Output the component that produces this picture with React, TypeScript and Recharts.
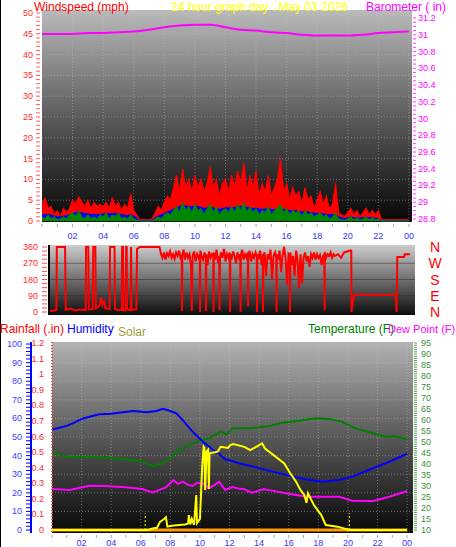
import React from 'react';
import { ComposedChart, Area, Line, XAxis, YAxis, CartesianGrid, ReferenceLine } from 'recharts';

const FONT = '"Liberation Sans", Arial, Helvetica, sans-serif';

// wind samples every 12 minutes, 00:00 -> 24:00 (mph)
const GUST = [
  4, 5.5, 3, 3.5, 1.5, 2.5, 1, 3, 2, 3,
  5, 4, 5.8, 4.5, 3.5, 5, 3, 4.5, 3.5, 4,
  3.5, 4.5, 3, 5.5, 3.5, 4.5, 2.5, 4, 3, 6.5,
  2.5, 1.5, 0.3, 0.3, 0.3, 0.3, 0.5, 2, 3.5, 2.5,
  4.5, 6, 5, 8, 11, 7, 12.5, 8, 10, 7,
  11, 8, 10, 7, 9, 13, 8, 10, 6, 9,
  10, 7, 11, 8, 12, 9, 14, 7, 11, 8,
  12, 6, 9, 7, 11, 6, 8, 10, 15, 7,
  9, 5, 8, 6, 7, 4, 8, 5, 6, 3,
  5, 7, 4, 6, 3, 4, 9, 2, 1.5, 1,
  2, 3, 1.5, 2.5, 1, 2, 3, 1.5, 2.5, 1.5,
  2.5, 0.3, 0.3, 0.3, 0.3, 0.3, 0.3, 0.3, 0.3, 0.3,
  0.3,
];
const AVG_SPEED = [
  1.5, 1.5, 1.6, 1.4, 1.2, 1.0, 1.0, 1.2, 1.3, 1.5,
  1.8, 2.0, 2.2, 2.0, 1.8, 1.7, 1.6, 1.6, 1.5, 1.6,
  1.7, 1.8, 1.7, 1.8, 1.8, 1.7, 1.5, 1.4, 1.3, 1.5,
  1.2, 0.8, 0, 0, 0, 0, 0.2, 0.8, 1.2, 1.5,
  1.8, 2.2, 2.5, 2.8, 3.2, 3.5, 3.8, 3.6, 3.5, 3.4,
  3.6, 3.5, 3.3, 3.0, 3.2, 3.4, 3.1, 3.0, 2.8, 3.0,
  3.2, 3.1, 3.3, 3.2, 3.5, 3.4, 3.6, 3.3, 3.2, 3.0,
  3.1, 2.9, 2.8, 2.9, 3.0, 2.8, 2.7, 2.9, 3.0, 2.8,
  2.6, 2.5, 2.4, 2.5, 2.3, 2.2, 2.1, 2.2, 2.0, 1.9,
  1.8, 1.8, 1.7, 1.6, 1.5, 1.5, 1.6, 1.0, 0.8, 0.6,
  0.7, 0.9, 0.8, 0.8, 0.7, 0.8, 0.9, 0.8, 0.8, 0.7,
  0.6, 0, 0, 0, 0, 0, 0, 0, 0, 0,
  0,
];
const WIND_SPEED = [
  1, 0.5, 1.5, 0.5, 1, 0.3, 0.5, 1, 0.5, 1.5,
  2, 1, 2.5, 1, 0.5, 1.5, 0.5, 1, 0.5, 1.5,
  1, 2, 0.5, 1.5, 1, 2, 0.5, 1, 0.5, 1.5,
  0.5, 0.3, 0, 0, 0, 0, 0, 0.5, 1, 0.5,
  1.5, 2, 1.5, 2.5, 3.5, 2, 4.5, 2.5, 3.5, 2,
  4, 2.5, 3, 1.5, 3, 4, 2, 3.5, 1.5, 2.5,
  3, 2, 3.5, 2, 4, 2.5, 4.5, 2, 3.5, 2,
  3, 1.5, 2.5, 2, 3.5, 1.5, 2.5, 3, 4, 2,
  3, 1.5, 2.5, 2, 2.5, 1, 2.5, 1.5, 2, 1,
  1.5, 2, 1, 1.5, 0.5, 1, 2, 0.5, 0.3, 0.2,
  0.5, 1, 0.3, 0.8, 0.2, 0.5, 1, 0.3, 0.8, 0.3,
  0.5, 0, 0, 0, 0, 0, 0, 0, 0, 0,
  0,
];
const WIND_STEP_H = 0.2;

// hourly barometer (in)
const BAROMETER = [
  31.01, 31.01, 31.01, 31.02, 31.02, 31.03, 31.04, 31.06, 31.09, 31.11,
  31.12, 31.12, 31.09, 31.06, 31.05, 31.03, 31.02, 31.0, 30.99, 30.99,
  30.99, 31.0, 31.02, 31.03, 31.04,
];

// [hour, degrees]
const DIRECTION: [number, number][] = [
  [0, 5], [0.2, 8], [0.42, 10], [0.45, 360], [1.0, 360], [1.05, 12], [1.4, 18], [1.7, 8], [2.0, 14], [2.38, 10],
  [2.4, 360], [2.55, 360], [2.58, 15], [2.85, 15], [2.88, 360], [3.02, 360], [3.05, 20], [3.3, 35], [3.4, 80], [3.5, 40],
  [3.6, 65], [3.7, 20], [3.97, 15], [4.0, 360], [4.3, 360], [4.33, 15], [4.6, 10], [4.78, 12], [4.8, 360], [4.86, 360],
  [4.88, 10], [5.05, 10], [5.07, 360], [5.11, 360], [5.13, 15], [5.38, 10], [5.4, 360], [5.43, 12], [5.75, 15], [5.8, 350],
  [6.0, 360], [7.3, 360],
  [7.4, 320], [7.5, 300], [7.6, 330], [7.7, 290], [7.8, 325], [7.9, 310], [8.0, 335], [8.1, 300], [8.2, 320], [8.3, 295],
  [8.4, 330], [8.5, 310], [8.6, 340], [8.7, 300], [8.78, 310], [8.8, 5], [8.82, 320], [8.9, 345], [9.0, 290], [9.1, 330],
  [9.2, 300], [9.3, 320], [9.4, 250], [9.45, 5], [9.5, 310], [9.6, 335], [9.7, 280], [9.8, 320], [9.9, 300], [9.98, 320],
  [10.0, 0], [10.02, 340], [10.1, 310], [10.2, 290], [10.3, 330], [10.38, 300], [10.4, 5], [10.42, 320], [10.5, 260], [10.6, 335],
  [10.7, 300], [10.8, 320], [10.88, 310], [10.9, 0], [10.92, 330], [11.0, 290], [11.1, 345], [11.2, 270], [11.28, 310], [11.3, 10],
  [11.33, 300], [11.4, 330], [11.5, 300], [11.6, 350], [11.7, 280], [11.8, 320], [11.9, 300], [11.98, 330], [12.0, 0], [12.02, 320],
  [12.1, 290], [12.2, 335], [12.3, 310], [12.4, 270], [12.5, 330], [12.6, 300], [12.68, 320], [12.7, 0], [12.72, 310], [12.8, 345],
  [12.9, 290], [13.0, 320], [13.1, 300], [13.18, 330], [13.2, 30], [13.22, 310], [13.3, 340], [13.4, 280], [13.5, 320], [13.6, 300],
  [13.7, 330], [13.78, 310], [13.8, 0], [13.82, 320], [13.9, 290], [14.0, 340], [14.1, 260], [14.18, 320], [14.2, 0], [14.22, 310],
  [14.3, 330], [14.4, 200], [14.5, 320], [14.6, 300], [14.7, 345], [14.8, 180], [14.9, 310], [15.0, 330], [15.08, 300], [15.1, 0],
  [15.12, 320], [15.2, 290], [15.3, 340], [15.4, 220], [15.5, 310], [15.6, 360], [15.7, 300], [15.8, 150], [15.9, 320], [15.98, 310],
  [16.0, 0], [16.02, 330], [16.1, 260], [16.2, 310], [16.3, 200], [16.4, 340], [16.5, 290], [16.6, 130], [16.7, 320], [16.8, 160],
  [16.9, 300], [17.0, 330], [17.1, 280], [17.2, 310], [17.3, 250], [17.4, 320], [17.5, 300], [17.6, 330], [17.7, 290], [17.8, 320],
  [17.9, 300], [18.0, 315], [18.1, 260], [18.2, 310], [18.28, 320], [18.3, 10], [18.32, 330], [18.4, 300], [18.5, 320], [18.6, 310],
  [18.7, 330], [18.8, 300], [18.9, 320], [19.0, 310], [19.2, 320], [19.4, 300], [19.6, 330], [19.8, 335], [20.0, 340], [20.08, 340],
  [20.1, 0], [20.2, 60], [20.3, 95], [21.0, 95], [22.0, 95], [23.05, 95], [23.1, 0], [23.15, 305], [23.6, 305], [23.65, 320],
  [24.0, 320],
];

const HUMIDITY: [number, number][] = [
  [0, 54], [0.5, 55], [1, 56], [1.4, 57.3], [2.1, 60], [2.6, 61], [3.2, 62.2], [4, 62.5], [4.8, 63.3], [5.5, 64],
  [6.4, 63.3], [7.05, 64], [7.5, 65.2], [8, 64], [8.4, 62.7], [8.85, 59], [9.5, 52.9], [10.2, 47.5], [10.9, 43], [11.3, 41],
  [11.7, 38], [12, 37.5], [12.7, 35.8], [13.8, 33.7], [14.9, 31.4], [16.3, 28.7], [17.2, 27.2], [18.3, 26], [19.4, 26.9], [20.3, 28.7],
  [21.7, 33.2], [22.8, 36.7], [24, 41],
];
const TEMPERATURE: [number, number][] = [
  [0, 45.3], [0.7, 44], [1.4, 43], [2.5, 43.3], [3.5, 43], [4.8, 42.3], [5.9, 41.4], [6.8, 39.1], [7.5, 40.3], [8, 42.6],
  [8.6, 46.4], [9.3, 48.6], [9.9, 50.5], [10.6, 51.7], [11.4, 54.7], [11.8, 53.5], [12.2, 56.2], [13.3, 56.2], [14.5, 57], [15.6, 58.8],
  [16.7, 59.7], [17.8, 60.8], [18.7, 60.5], [19.6, 59.2], [20.5, 56.2], [21.7, 54], [22.5, 52.4], [23.2, 52.6], [24, 51.4],
];
const DEW_POINT: [number, number][] = [
  [0, 28.6], [1.2, 28.2], [2.5, 30.1], [3.6, 30], [5, 29.4], [6.1, 28.6], [6.8, 27.1], [7.7, 29.4], [8.2, 32.7], [8.5, 31],
  [8.85, 32], [9.2, 30.5], [9.5, 30], [9.8, 31.5], [10.2, 31], [10.6, 28.9], [11.0, 30.5], [11.3, 32], [11.7, 28.2], [12.2, 29.5],
  [12.6, 28.9], [13.0, 28.5], [13.5, 27], [14.3, 28.5], [14.9, 27.9], [16, 26.5], [17.2, 25.1], [18.3, 25.1], [19.4, 25.1], [20.3, 23.3],
  [21.7, 23.2], [22.8, 25.1], [24, 27.7],
];
// W/m2
const SOLAR: [number, number][] = [
  [0, 0], [6.5, 0], [6.8, 8], [7.1, 12], [7.3, 44], [7.6, 60], [7.7, 68], [7.8, 18], [8.1, 23], [8.6, 27],
  [9.0, 30], [9.2, 35], [9.25, 80], [9.35, 30], [9.45, 59], [9.6, 27], [9.75, 188], [9.8, 37], [10.0, 60], [10.15, 339],
  [10.25, 446], [10.3, 440], [10.35, 214], [10.45, 420], [10.55, 430], [10.6, 220], [10.65, 411], [11.2, 420], [11.4, 446], [11.9, 440],
  [12.05, 455], [12.25, 461], [13.0, 446], [13.4, 428], [14.0, 455], [14.2, 464], [14.4, 437], [15.0, 400], [15.7, 357], [16.1, 304],
  [16.5, 259], [16.8, 214], [17.05, 188], [17.2, 146], [17.3, 197], [17.7, 134], [18.2, 80], [18.5, 27], [19.3, 18], [20.1, 0],
  [24, 0],
];
const RAINFALL: [number, number][] = [[0, 0], [24, 0]];
const SUNRISE = 6.3;
const SUNSET = 20.1;

const HOUR_LABELS = ['02', '04', '06', '08', '10', '12', '14', '16', '18', '20', '22', '00'];
const WIND_LABELS = [0, 5, 10, 15, 20, 25, 30, 35, 40, 45, 50];
const BARO_LABELS = [28.8, 29, 29.2, 29.4, 29.6, 29.8, 30, 30.2, 30.4, 30.6, 30.8, 31, 31.2];
const DIR_LABELS = [0, 90, 180, 270, 360];
const COMPASS = ['N', 'E', 'S', 'W', 'N'];
const HUM_LABELS = [0, 10, 20, 30, 40, 50, 60, 70, 80, 90, 100];
const RAIN_LABELS = [0, 0.1, 0.2, 0.3, 0.4, 0.5, 0.6, 0.7, 0.8, 0.9, 1, 1.1, 1.2];
const TEMP_LABELS = [10, 15, 20, 25, 30, 35, 40, 45, 50, 55, 60, 65, 70, 75, 80, 85, 90, 95];

const windData = GUST.map((g, i) => ({
  h: Math.round(i * WIND_STEP_H * 10) / 10,
  gust: g,
  avg: AVG_SPEED[i],
  speed: WIND_SPEED[i],
}));
const baroData = BAROMETER.map((b, i) => ({ h: i, baro: b }));
const dirData = DIRECTION.map(([h, v]) => ({ h, dir: v }));
const pairs = (arr: [number, number][], key: string) => arr.map(([h, v]) => ({ h, [key]: v }));

const hourTicks = Array.from({ length: 25 }, (_, i) => i);
const evenHours = HOUR_LABELS.map((_, i) => (i + 1) * 2);
const windTicks = Array.from({ length: 51 }, (_, i) => i);
const baroTicks = Array.from({ length: 49 }, (_, i) => (2880 + i * 5) / 100);
const dirTicks = Array.from({ length: 17 }, (_, i) => i * 22.5);
const humTicks = Array.from({ length: 51 }, (_, i) => i * 2);
const tempTicks = Array.from({ length: 86 }, (_, i) => 10 + i);

const small = { fontFamily: FONT, fontSize: 9 };

const hourTick = (markY: number, labelY: number) => (p: any) => {
  const h = p.payload.value;
  const label = h > 0 && h % 2 === 0 ? HOUR_LABELS[h / 2 - 1] : null;
  return (
    <g>
      <line x1={p.x} x2={p.x} y1={markY} y2={markY + 3} stroke="#a8a8a8" />
      {label && (
        <text x={p.x} y={labelY} textAnchor="middle" fill="#3333ff" {...small}>{label}</text>
      )}
    </g>
  );
};

const windTick = (p: any) => {
  const v = p.payload.value;
  return (
    <g>
      <line x1={36} x2={40} y1={p.y} y2={p.y} stroke="#ff6060" />
      {WIND_LABELS.includes(v) && (
        <text x={33} y={p.y} dy={3} textAnchor="end" fill="#ff2a2a" {...small}>{v}</text>
      )}
    </g>
  );
};

const baroTick = (p: any) => {
  const v = p.payload.value;
  const lab = BARO_LABELS.find((b) => Math.abs(b - v) < 0.001);
  return (
    <g>
      <line x1={413} x2={416} y1={p.y} y2={p.y} stroke="#ff40ff" />
      {lab !== undefined && (
        <text x={418} y={p.y} dy={3} fill="#ff00ff" {...small}>{lab}</text>
      )}
    </g>
  );
};

const dirTick = (p: any) => {
  const v = p.payload.value;
  return (
    <g>
      <line x1={42} x2={47} y1={p.y} y2={p.y} stroke="#ff5050" />
      {DIR_LABELS.includes(v) && (
        <text x={38} y={p.y} dy={3} textAnchor="end" fill="#ff2a2a" {...small}>{v}</text>
      )}
    </g>
  );
};

const compassTick = (p: any) => {
  const idx = DIR_LABELS.indexOf(p.payload.value);
  return (
    <text x={435} y={p.y} dy={5} textAnchor="middle" fill="#ff0000" fontFamily={FONT} fontSize={14}>
      {COMPASS[idx]}
    </text>
  );
};

const humTick = (p: any) => {
  const v = p.payload.value;
  return (
    <g>
      <line x1={26} x2={30} y1={p.y} y2={p.y} stroke="#0000ff" />
      {HUM_LABELS.includes(v) && (
        <text x={22} y={p.y} dy={3} textAnchor="end" fill="#4040ff" {...small}>{v}</text>
      )}
    </g>
  );
};

const rainTick = (p: any) => (
  <text x={44} y={p.y} dy={3} textAnchor="end" fill="#ff2a2a" {...small}>{p.payload.value}</text>
);

const tempTick = (p: any) => {
  const v = p.payload.value;
  return (
    <g>
      <line x1={414} x2={417} y1={p.y} y2={p.y} stroke="#50a050" />
      {TEMP_LABELS.includes(v) && (
        <text x={421} y={p.y} dy={3} fill="#409040" {...small}>{v}</text>
      )}
    </g>
  );
};

const Gradient = ({ id, top, mid, bottom }: { id: string; top: string; mid: string; bottom: string }) => (
  <defs>
    <linearGradient id={id} x1="0" y1="0" x2="0" y2="1">
      <stop offset="0%" stopColor={top} />
      <stop offset="50%" stopColor={mid} />
      <stop offset="100%" stopColor={bottom} />
    </linearGradient>
  </defs>
);

const WindPanel = () => (
  <ComposedChart width={456} height={247} data={windData} margin={{ top: 10, right: 0, bottom: 0, left: 0 }}>
    <Gradient id="bg1" top="#bababa" mid="#5c5c5c" bottom="#060606" />
    <CartesianGrid
      yAxisId="wind"
      fill="url(#bg1)"
      fillOpacity={1}
      stroke="#c8c8c8"
      strokeOpacity={0.45}
      strokeDasharray="1 2"
      horizontalValues={WIND_LABELS}
      verticalValues={evenHours}
    />
    <XAxis
      type="number"
      dataKey="h"
      domain={[0, 24.2]}
      allowDataOverflow
      ticks={hourTicks}
      interval={0}
      height={25}
      axisLine={false}
      tickLine={false}
      tick={hourTick(224, 239)}
    />
    <YAxis
      yAxisId="wind"
      orientation="left"
      width={42}
      type="number"
      domain={[-0.24, 50.72]}
      allowDataOverflow
      ticks={windTicks}
      interval={0}
      axisLine={false}
      tickLine={false}
      tick={windTick}
    />
    <YAxis
      yAxisId="baro"
      orientation="right"
      width={44}
      type="number"
      domain={[28.764, 31.296]}
      allowDataOverflow
      ticks={baroTicks}
      interval={0}
      axisLine={false}
      tickLine={false}
      tick={baroTick}
    />
    <Area yAxisId="wind" dataKey="gust" type="linear" stroke="#ff0000" strokeWidth={1.2} fill="#ff0000" fillOpacity={1} dot={false} activeDot={false} isAnimationActive={false} />
    <Area yAxisId="wind" dataKey="avg" type="linear" stroke="#0000ff" strokeWidth={1} fill="#0000ff" fillOpacity={1} dot={false} activeDot={false} isAnimationActive={false} />
    <Area yAxisId="wind" dataKey="speed" type="linear" stroke="#008800" strokeWidth={1} fill="#008800" fillOpacity={1} dot={false} activeDot={false} isAnimationActive={false} />
    <Line yAxisId="baro" data={baroData} dataKey="baro" type="monotone" stroke="#ff00ff" strokeWidth={2} dot={false} activeDot={false} isAnimationActive={false} />
  </ComposedChart>
);

const DirectionPanel = () => (
  <ComposedChart width={456} height={86} data={dirData} margin={{ top: 8, right: 0, bottom: 8, left: 0 }}>
    <Gradient id="bg2" top="#cccccc" mid="#6e6e6e" bottom="#0c0c0c" />
    <CartesianGrid
      yAxisId="dir"
      fill="url(#bg2)"
      fillOpacity={1}
      stroke="#2a2a2a"
      strokeOpacity={0.5}
      vertical={false}
      horizontalValues={[90, 180, 270]}
    />
    <XAxis type="number" dataKey="h" domain={[-0.07, 24.33]} allowDataOverflow hide />
    <YAxis
      yAxisId="dir"
      orientation="left"
      width={49}
      type="number"
      domain={[-16.6, 371.1]}
      allowDataOverflow
      ticks={dirTicks}
      interval={0}
      axisLine={{ stroke: '#000000', strokeWidth: 2 }}
      tickLine={false}
      tick={dirTick}
    />
    <YAxis
      yAxisId="compass"
      orientation="right"
      width={41}
      type="number"
      domain={[-16.6, 371.1]}
      allowDataOverflow
      ticks={DIR_LABELS}
      interval={0}
      axisLine={false}
      tickLine={false}
      tick={compassTick}
    />
    <Line yAxisId="dir" dataKey="dir" type="linear" stroke="#ff0000" strokeWidth={2} dot={false} activeDot={false} isAnimationActive={false} />
  </ComposedChart>
);

const ClimatePanel = () => (
  <ComposedChart width={456} height={223} margin={{ top: 8, right: 0, bottom: 0, left: 0 }}>
    <Gradient id="bg3" top="#b2b2b2" mid="#585858" bottom="#080808" />
    <CartesianGrid
      yAxisId="b_hum"
      fill="url(#bg3)"
      fillOpacity={1}
      stroke="#c8c8c8"
      strokeOpacity={0.45}
      strokeDasharray="1 2"
      horizontalValues={HUM_LABELS}
      verticalValues={evenHours}
    />
    <XAxis
      type="number"
      dataKey="h"
      domain={[0, 24.4]}
      allowDataOverflow
      ticks={hourTicks}
      interval={0}
      height={24}
      axisLine={false}
      tickLine={false}
      tick={hourTick(201, 212)}
    />
    <YAxis
      yAxisId="b_hum"
      orientation="left"
      width={31}
      type="number"
      domain={[-1.6, 101.1]}
      allowDataOverflow
      ticks={humTicks}
      interval={0}
      axisLine={{ stroke: '#0000ff', strokeWidth: 2 }}
      tickLine={false}
      tick={humTick}
    />
    <YAxis
      yAxisId="a_rain"
      orientation="left"
      width={21}
      type="number"
      domain={[-0.019, 1.2065]}
      allowDataOverflow
      ticks={RAIN_LABELS}
      interval={0}
      axisLine={{ stroke: '#ff4040', strokeWidth: 2, strokeDasharray: '1 2' }}
      tickLine={false}
      tick={rainTick}
    />
    <YAxis
      yAxisId="temp"
      orientation="right"
      width={43}
      type="number"
      domain={[8.64, 95.45]}
      allowDataOverflow
      ticks={tempTicks}
      interval={0}
      axisLine={false}
      tickLine={false}
      tick={tempTick}
    />
    <YAxis yAxisId="solar" hide type="number" domain={[-16, 1008]} allowDataOverflow />
    <Line yAxisId="a_rain" data={pairs(RAINFALL, 'rain')} dataKey="rain" type="linear" stroke="#ff9900" strokeWidth={3} dot={false} activeDot={false} isAnimationActive={false} />
    <Line yAxisId="temp" data={pairs(DEW_POINT, 'dew')} dataKey="dew" type="linear" stroke="#ff00ff" strokeWidth={2} dot={false} activeDot={false} isAnimationActive={false} />
    <Line yAxisId="temp" data={pairs(TEMPERATURE, 'temp')} dataKey="temp" type="linear" stroke="#008000" strokeWidth={2} dot={false} activeDot={false} isAnimationActive={false} />
    <Line yAxisId="b_hum" data={pairs(HUMIDITY, 'hum')} dataKey="hum" type="linear" stroke="#0000ff" strokeWidth={2} dot={false} activeDot={false} isAnimationActive={false} />
    <Line yAxisId="solar" data={pairs(SOLAR, 'solar')} dataKey="solar" type="linear" stroke="#ffff00" strokeWidth={2} dot={false} activeDot={false} isAnimationActive={false} />
    <ReferenceLine yAxisId="solar" segment={[{ x: SUNRISE, y: 0 }, { x: SUNRISE, y: 90 }]} stroke="#ffff00" strokeDasharray="2 2" ifOverflow="visible" />
    <ReferenceLine yAxisId="solar" segment={[{ x: SUNSET, y: 0 }, { x: SUNSET, y: 90 }]} stroke="#ffff00" strokeDasharray="2 2" ifOverflow="visible" />
  </ComposedChart>
);

export default function App() {
  return (
    <div style={{ position: 'absolute', left: 0, top: 0, width: 456, height: 547, overflow: 'hidden', background: '#ffffff' }}>
      <div style={{ position: 'absolute', left: 0, top: 0 }}>
        <WindPanel />
      </div>
      <div style={{ position: 'absolute', left: 0, top: 237 }}>
        <DirectionPanel />
      </div>
      <div style={{ position: 'absolute', left: 0, top: 334 }}>
        <ClimatePanel />
      </div>
      <svg width={456} height={547} style={{ position: 'absolute', left: 0, top: 0, pointerEvents: 'none' }} fontFamily={FONT} fontSize={12}>
        <rect x={0} y={0} width={1} height={547} fill="#000000" />
        <text x={34} y={10.5} fill="#ff0000">Windspeed (mph)</text>
        <text x={171} y={10.5} fill="#ffff00">24 hour graph day : May 03 2026</text>
        <text x={366} y={10.5} fill="#ff00ff">Barometer ( in)</text>
        <text x={0} y={333} fill="#ff0000">Rainfall (.in)</text>
        <text x={67} y={333} fill="#0000ff">Humidity</text>
        <text x={118} y={335.5} fill="#a0a040">Solar</text>
        <text x={308} y={333} fill="#008000">Temperature (F)</text>
        <text x={388} y={333} fill="#ff00ff" fontSize={11}>Dew Point (F)</text>
      </svg>
    </div>
  );
}
